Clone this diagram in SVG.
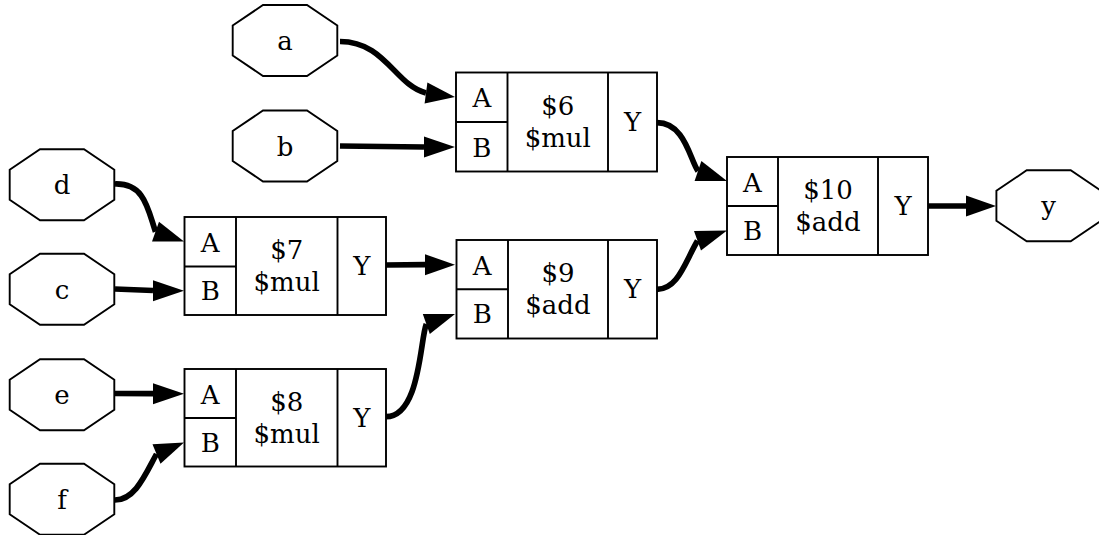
<svg xmlns="http://www.w3.org/2000/svg" width="1099" height="535" viewBox="0 0 1099 535">
<style>
text{font-family:"DejaVu Serif","Liberation Serif",serif;font-size:26px;fill:#000;text-anchor:middle}
.oct{fill:#fff;stroke:#000;stroke-width:1.9}
.box{fill:#fff;stroke:#000;stroke-width:1.9}
.div{stroke:#000;stroke-width:1.9;fill:none}
.e{fill:none;stroke:#000;stroke-width:5.7}
.ah{fill:#000;stroke:none}
</style>
<defs>
<polygon id="octo" points="-22,-35.5 22,-35.5 52.3,-15 52.3,15 22,35.5 -22,35.5 -52.3,15 -52.3,-15"/>
</defs>
<rect width="1099" height="535" fill="#fff"/>

<g id="edges">
<path class="e" d="M340,41.5 C385,41.5 395,85 426,93"/>
<polygon class="ah" points="424.6,103.4 455,97 427.4,82.6"/>
<path class="e" d="M340,146 L424,147"/>
<polygon class="ah" points="424,136.5 455,147 424,157.5"/>
<path class="e" d="M115,184 C145,183 148,210 155.5,231.7"/>
<polygon class="ah" points="152,241.6 184,241.5 159,221.8"/>
<path class="e" d="M115,289 L153,290.5"/>
<polygon class="ah" points="153,280.3 184,290.8 153,301.3"/>
<path class="e" d="M115,393.5 L153,393.7"/>
<polygon class="ah" points="153,383.2 184,393.7 153,404.2"/>
<path class="e" d="M115,500 C135,500 145,475 156.5,454"/>
<polygon class="ah" points="152.5,444.3 184,442.5 160.5,463.7"/>
<path class="e" d="M386,265 L425,264.7"/>
<polygon class="ah" points="425,254.2 455,264.7 425,275.2"/>
<path class="e" d="M386,416.7 C420,416.7 420,340 426.3,324"/>
<polygon class="ah" points="422.8,314.1 455,314 429.8,333.9"/>
<path class="e" d="M657,122.7 C685,122.7 690,160 698,171"/>
<polygon class="ah" points="694.6,180.9 727,181 701.4,161.1"/>
<path class="e" d="M657,289.3 C678,289.3 685,262 697.5,240.8"/>
<polygon class="ah" points="694,231 727,230.5 701,250.6"/>
<path class="e" d="M928,206 L966,206"/>
<polygon class="ah" points="966,195.5 996,206 966,216.5"/>
</g>

<g id="n_a"><use href="#octo" class="oct" x="285" y="40.5"/><text x="285" y="50">a</text></g>
<g id="n_b"><use href="#octo" class="oct" x="285" y="146"/><text x="285" y="155.5">b</text></g>
<g id="n_d"><use href="#octo" class="oct" x="62" y="184.7"/><text x="62" y="194.2">d</text></g>
<g id="n_c"><use href="#octo" class="oct" x="62" y="289.2"/><text x="62" y="298.7">c</text></g>
<g id="n_e"><use href="#octo" class="oct" x="62" y="394.7"/><text x="62" y="404.2">e</text></g>
<g id="n_f"><use href="#octo" class="oct" x="62" y="499.2"/><text x="62" y="508.7">f</text></g>
<g id="n_y"><use href="#octo" class="oct" x="1048.7" y="205.8"/><text x="1048.7" y="215.3">y</text></g>

<g id="c6">
<rect class="box" x="456" y="72.5" width="201" height="99"/>
<path class="div" d="M507.5,72.5V171.5M608,72.5V171.5M456,122H507.5"/>
<text x="481.8" y="107.2">A</text><text x="481.8" y="156.5">B</text>
<text x="557.8" y="115">$6</text><text x="557.8" y="147">$mul</text>
<text x="632.5" y="131">Y</text>
</g>
<g id="c7">
<rect class="box" x="184.5" y="217" width="201.5" height="98"/>
<path class="div" d="M236,217V315M337.5,217V315M184.5,266.5H236"/>
<text x="210.2" y="251.7">A</text><text x="210.2" y="300.3">B</text>
<text x="286.7" y="259">$7</text><text x="286.7" y="291">$mul</text>
<text x="361.8" y="275">Y</text>
</g>
<g id="c8">
<rect class="box" x="184.5" y="369" width="201.5" height="97.5"/>
<path class="div" d="M236,369V466.5M337.5,369V466.5M184.5,418H236"/>
<text x="210.2" y="403.5">A</text><text x="210.2" y="451.8">B</text>
<text x="286.7" y="410.8">$8</text><text x="286.7" y="442.8">$mul</text>
<text x="361.8" y="426.8">Y</text>
</g>
<g id="c9">
<rect class="box" x="456.5" y="240" width="200.5" height="98.5"/>
<path class="div" d="M508,240V338.5M608,240V338.5M456.5,289.3H508"/>
<text x="482.2" y="274.7">A</text><text x="482.2" y="323.4">B</text>
<text x="558" y="282.3">$9</text><text x="558" y="314.3">$add</text>
<text x="632.5" y="298.3">Y</text>
</g>
<g id="c10">
<rect class="box" x="727" y="157" width="201" height="98"/>
<path class="div" d="M778,157V255M878,157V255M727,206H778"/>
<text x="752.5" y="191.5">A</text><text x="752.5" y="240">B</text>
<text x="828" y="199">$10</text><text x="828" y="231">$add</text>
<text x="903" y="215">Y</text>
</g>
</svg>
